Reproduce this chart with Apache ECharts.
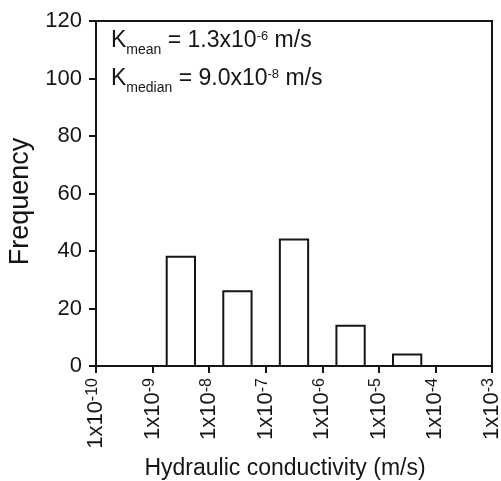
<!DOCTYPE html>
<html><head><meta charset="utf-8">
<script src="https://cdn.jsdelivr.net/npm/echarts@6/dist/echarts.min.js"></script>
<style>html,body{margin:0;padding:0;background:#fff}#c{width:501px;height:481px}</style>
</head><body><div id="c"></div>
<script>
// Bin lower edges (log10 of K, m/s); each bin spans one decade
const binExponents = [-9, -8, -7, -6, -5];
const frequencies = [38, 26, 44, 14, 4];
// x tick labels: 1x10^n
const xTickExponents = [-10, -9, -8, -7, -6, -5, -4, -3];
const yTickValues = [0, 20, 40, 60, 80, 100, 120];
const statLabels = ['mean', 'median'];
const statMantissas = ['1.3x10', '9.0x10'];
const statExponents = ['-6', '-8'];
const statUnit = ' m/s';

const FONT = 'Liberation Sans, Arial, sans-serif';
const INK = '#161616';

const chart = echarts.init(document.getElementById('c'), null, {renderer: 'canvas'});

const statRich = {
  b: {fontSize: 23, fontFamily: FONT, fill: INK},
  sub: {fontSize: 14, fontFamily: FONT, fill: INK, padding: [20, 0, 0, 0]},
  sup: {fontSize: 13, fontFamily: FONT, fill: INK, padding: [0, 0, 8, 0]}
};
const statY = [40.5, 78.5];

const option = {
  backgroundColor: '#fff',
  animation: false,
  grid: {left: 96, right: 9, top: 21, bottom: 115, containLabel: false, outerBoundsMode: 'none',
         show: true, borderColor: INK, borderWidth: 2, backgroundColor: 'transparent'},
  xAxis: {
    type: 'value',
    min: xTickExponents[0],
    max: xTickExponents[xTickExponents.length - 1],
    interval: 1,
    splitLine: {show: false},
    axisLine: {show: true, onZero: false, lineStyle: {color: INK, width: 2}},
    axisTick: {show: true, inside: false, length: 7, lineStyle: {color: INK, width: 2}},
    axisLabel: {
      rotate: 90,
      margin: 12,
      formatter: v => xTickExponents.includes(v) ? '{b|1x10}{s|' + v + '}' : '',
      rich: {
        b: {fontSize: 22, fontFamily: FONT, color: INK},
        s: {fontSize: 16, fontFamily: FONT, color: INK, padding: [0, 0, 6, 0]}
      }
    },
    name: 'Hydraulic conductivity (m/s)',
    nameLocation: 'middle',
    nameGap: 84,
    nameTextStyle: {fontSize: 23, fontFamily: FONT, color: INK, padding: [0, 18, 0, 0]}
  },
  yAxis: {
    type: 'value',
    min: yTickValues[0],
    max: yTickValues[yTickValues.length - 1],
    interval: 20,
    splitLine: {show: false},
    axisLine: {show: true, lineStyle: {color: INK, width: 2}},
    axisTick: {show: true, inside: false, length: 7, lineStyle: {color: INK, width: 2}},
    axisLabel: {margin: 14, fontSize: 22, fontFamily: FONT, color: INK},
    name: 'Frequency',
    nameLocation: 'middle',
    nameGap: 60,
    nameTextStyle: {fontSize: 27, fontFamily: FONT, color: INK, padding: [0, 16, 0, 0]}
  },
  series: [{
    type: 'custom',
    data: binExponents.map((e, i) => [e, frequencies[i]]),
    renderItem: function (params, api) {
      const e = api.value(0);
      const f = api.value(1);
      const p0 = api.coord([e + 0.25, 0]);
      const p1 = api.coord([e + 0.75, f]);
      return {
        type: 'rect',
        shape: {x: p0[0], y: p1[1], width: p1[0] - p0[0], height: p0[1] - p1[1]},
        style: {fill: '#fff', stroke: INK, lineWidth: 2}
      };
    }
  }],
  graphic: statLabels.map((lab, i) => ({
    type: 'text',
    x: 111,
    y: statY[i],
    style: {
      text: '{b|K}{sub|' + lab + '}{b| = ' + statMantissas[i] + '}{sup|' + statExponents[i] + '}{b|' + statUnit + '}',
      rich: statRich,
      verticalAlign: 'middle',
      align: 'left',
      fill: INK
    }
  }))
};
chart.setOption(option);
</script></body></html>
